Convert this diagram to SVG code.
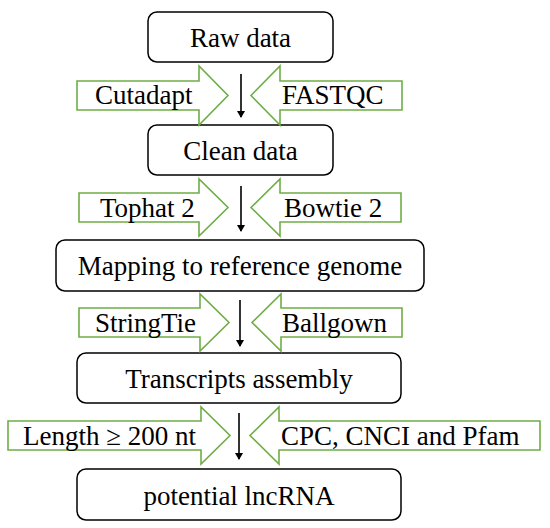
<svg xmlns="http://www.w3.org/2000/svg" width="550" height="528" viewBox="0 0 550 528">
<style>
.box{fill:#fff;stroke:#000;stroke-width:1.5}
.garrow{fill:#fff;stroke:#70ad47;stroke-width:1.6;stroke-linejoin:miter}
.lbl{font-family:'Liberation Serif',serif;font-size:27px;fill:#000}
.c{text-anchor:middle}
.flow{stroke:#000;stroke-width:1.6;fill:none}
</style>
<defs>
<marker id="ah" markerWidth="8" markerHeight="8" refX="6" refY="4" orient="auto" markerUnits="userSpaceOnUse">
<path d="M0,0 L7,4 L0,8 Z" fill="#000"/>
</marker>
</defs>
<rect width="550" height="528" fill="#fff"/>
<g id="node-raw"><rect class="box" x="148" y="12" width="185" height="50" rx="9"/><text class="lbl c" x="240.5" y="47">Raw data</text></g>
<g id="node-clean"><rect class="box" x="148" y="125" width="185" height="50" rx="9"/><text class="lbl c" x="240.5" y="160">Clean data</text></g>
<g id="node-mapping"><rect class="box" x="56" y="240" width="368" height="51" rx="9"/><text class="lbl c" x="240" y="275">Mapping to reference genome</text></g>
<g id="node-transcripts"><rect class="box" x="77" y="353" width="324" height="50" rx="9"/><text class="lbl c" x="239" y="388">Transcripts assembly</text></g>
<g id="node-lncrna"><rect class="box" x="77" y="469" width="324" height="51" rx="9"/><text class="lbl c" x="239" y="505">potential lncRNA</text></g>

<g id="tool-cutadapt"><path class="garrow" d="M77,81 H199 V66 L228,95.5 L199,125 V110 H77 Z"/><text class="lbl" x="95" y="104">Cutadapt</text></g>
<g id="tool-fastqc"><path class="garrow" d="M402,81 H280 V66 L251,95.5 L280,125 V110 H402 Z"/><text class="lbl" x="282" y="104">FASTQC</text></g>
<g id="tool-tophat"><path class="garrow" d="M79,193 H199 V179 L228,207.5 L199,236 V222 H79 Z"/><text class="lbl" x="100" y="217">Tophat 2</text></g>
<g id="tool-bowtie"><path class="garrow" d="M401,193 H280 V179 L251,207.5 L280,236 V222 H401 Z"/><text class="lbl" x="284" y="217">Bowtie 2</text></g>
<g id="tool-stringtie"><path class="garrow" d="M79,308 H200 V294 L229,322.5 L200,351 V337 H79 Z"/><text class="lbl" x="95" y="332">StringTie</text></g>
<g id="tool-ballgown"><path class="garrow" d="M402,308 H281 V294 L252,322.5 L281,351 V337 H402 Z"/><text class="lbl" x="282" y="332">Ballgown</text></g>
<g id="tool-length"><path class="garrow" d="M8,421 H201 V407 L230,435.5 L201,464 V450 H8 Z"/><text class="lbl" x="23" y="445">Length ≥ 200 nt</text></g>
<g id="tool-cpc"><path class="garrow" d="M540,421 H279 V407 L250,435.5 L279,464 V450 H540 Z"/><text class="lbl" x="281" y="445">CPC, CNCI and Pfam</text></g>

<g id="connectors">
<line class="flow" x1="241" y1="74" x2="241" y2="117" marker-end="url(#ah)"/>
<line class="flow" x1="241" y1="186" x2="241" y2="231" marker-end="url(#ah)"/>
<line class="flow" x1="240" y1="300" x2="240" y2="346" marker-end="url(#ah)"/>
<line class="flow" x1="239" y1="413" x2="239" y2="459" marker-end="url(#ah)"/>
</g>
</svg>
